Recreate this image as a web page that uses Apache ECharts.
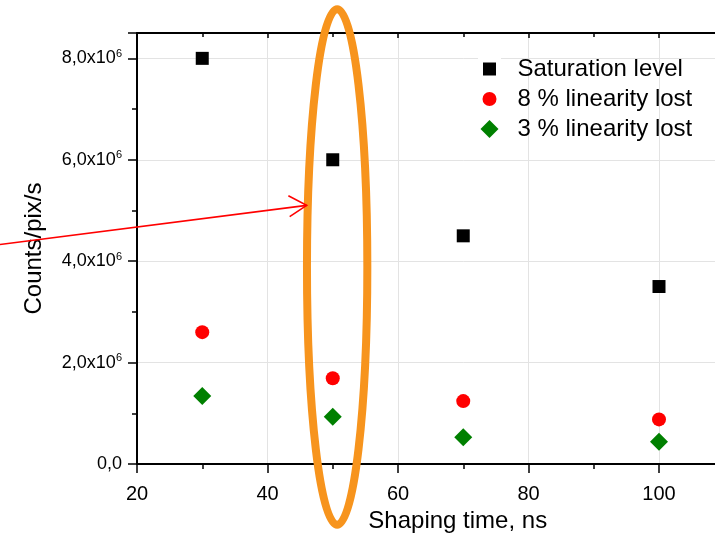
<!DOCTYPE html>
<html>
<head>
<meta charset="utf-8">
<script src="https://cdn.jsdelivr.net/npm/echarts@6/dist/echarts.min.js"></script>
<style>
  html, body { margin: 0; padding: 0; background: #fff; overflow: hidden; }
  #chart { width: 790px; height: 533px; }
</style>
</head>
<body>
<div id="chart"></div>
<script>
// Shaping time (ns) and measured count-rate limits (counts/pix/s)
const shapingTime = [30, 50, 70, 100];
const saturationLevel = [8.0e6, 6.0e6, 4.5e6, 3.5e6];
const linearityLost8 = [2.6e6, 1.69e6, 1.24e6, 0.88e6];
const linearityLost3 = [1.34e6, 0.93e6, 0.53e6, 0.44e6];

const seriesNames = ['Saturation level', '8 % linearity lost', '3 % linearity lost'];
const yTickMantissa = ['0,0', '2,0', '4,0', '6,0', '8,0'];

// Highlight ellipse around the 50 ns column and the pointer arrow, in data units
const ellipseBox = { x0: 46.05, x1: 55.3, y0: -1.2e6, y1: 8.97e6 };
const arrowTail = [-1.0, 4.33e6];
const arrowTip = [46.0, 5.1e6];
const arrowBarbs = [[43.2, 5.29e6], [43.4, 4.88e6]];

const FONT = '"Liberation Sans", Arial, sans-serif';

// The plot runs on past the right edge of the 715 px window, out to 120 ns
const chart = echarts.init(document.getElementById('chart'), null, { renderer: 'canvas' });

function pairs(xs, ys) { return xs.map((x, i) => [x, ys[i]]); }

const option = {
  animation: false,
  backgroundColor: '#ffffff',
  textStyle: { fontFamily: FONT },
  grid: { left: 137, top: 33, right: 0.5, bottom: 69, outerBoundsMode: 'none', containLabel: false },
  legend: {
    orient: 'vertical',
    left: 473,
    top: 52,
    itemWidth: 18,
    itemHeight: 18,
    itemGap: 6,
    data: [
      // white borders trim the square and circle icons down to their marker size
      { name: seriesNames[0], itemStyle: { borderColor: '#ffffff', borderWidth: 5 } },
      { name: seriesNames[1], itemStyle: { borderColor: '#ffffff', borderWidth: 4 } },
      { name: seriesNames[2] }
    ],
    textStyle: { fontFamily: FONT, fontSize: 24, color: '#000', lineHeight: 24, padding: [0, 0, 0, 14] }
  },
  xAxis: [{
    type: 'value',
    position: 'bottom',
    min: 20, max: 120, interval: 20,
    name: 'Shaping time, ns',
    nameLocation: 'middle',
    nameGap: 44,
    nameTextStyle: { fontFamily: FONT, fontSize: 24, color: '#000', padding: [0, 11, 0, 0] },
    axisLine: { show: true, onZero: false, lineStyle: { color: '#000', width: 2 } },
    axisTick: { show: true, inside: false, length: 9, lineStyle: { color: '#000', width: 1.5 } },
    minorTick: { show: true, splitNumber: 2, length: 5, lineStyle: { color: '#000', width: 1.5 } },
    axisLabel: { fontFamily: FONT, fontSize: 20, color: '#000', margin: 20 },
    splitLine: { show: true, lineStyle: { color: '#e3e3e3', width: 1 } }
  }, {
    type: 'value',
    position: 'top',
    min: 20, max: 120, interval: 20,
    axisLine: { show: true, onZero: false, lineStyle: { color: '#000', width: 2 } },
    axisTick: { show: true, inside: true, length: 5, lineStyle: { color: '#000', width: 1.5 } },
    minorTick: { show: true, splitNumber: 2, length: 4, lineStyle: { color: '#000', width: 1.5 } },
    axisLabel: { show: false },
    splitLine: { show: false }
  }],
  yAxis: {
    type: 'value',
    min: 0, max: 8.5e6, interval: 2e6,
    name: 'Counts/pix/s',
    nameLocation: 'middle',
    nameGap: 91,
    nameTextStyle: { fontFamily: FONT, fontSize: 24, color: '#000' },
    axisLine: { show: true, onZero: false, lineStyle: { color: '#000', width: 2 } },
    axisTick: { show: true, inside: false, length: 9, lineStyle: { color: '#000', width: 1.5 } },
    minorTick: { show: true, splitNumber: 2, length: 5, lineStyle: { color: '#000', width: 1.5 } },
    axisLabel: {
      margin: 15,
      showMaxLabel: false,
      formatter: function (v) {
        const idx = Math.round(v / 2e6);
        if (idx * 2e6 !== v) return '';
        if (idx === 0) return '{b|' + yTickMantissa[0] + '}';
        return '{b|' + yTickMantissa[idx] + 'x10}{s|6}';
      },
      rich: {
        b: { fontFamily: FONT, fontSize: 18, color: '#000', lineHeight: 20 },
        s: { fontFamily: FONT, fontSize: 11, color: '#000', lineHeight: 11, verticalAlign: 'top', padding: [0, 0, 10, 0] }
      }
    },
    splitLine: { show: true, lineStyle: { color: '#e3e3e3', width: 1 } }
  },
  series: [{
    name: seriesNames[0],
    type: 'scatter',
    symbol: 'rect',
    symbolSize: 13,
    itemStyle: { color: '#000000', opacity: 1 },
    data: pairs(shapingTime, saturationLevel),
    z: 5
  }, {
    name: seriesNames[1],
    type: 'scatter',
    symbol: 'circle',
    symbolSize: 14,
    itemStyle: { color: '#ff0000', opacity: 1 },
    data: pairs(shapingTime, linearityLost8),
    z: 5
  }, {
    name: seriesNames[2],
    type: 'scatter',
    symbol: 'diamond',
    symbolSize: 18,
    itemStyle: { color: '#008000', opacity: 1 },
    data: pairs(shapingTime, linearityLost3),
    z: 5
  }]
};

chart.setOption(option);

// Annotations placed through the grid's coordinate system
function px(p) { return chart.convertToPixel({ gridIndex: 0 }, p); }

const e0 = px([ellipseBox.x0, ellipseBox.y1]);
const e1 = px([ellipseBox.x1, ellipseBox.y0]);
const tail = px(arrowTail);
const tip = px(arrowTip);
const barbA = px(arrowBarbs[0]);
const barbB = px(arrowBarbs[1]);

chart.setOption({
  graphic: [{
    type: 'ellipse',
    z: 100,
    shape: {
      cx: (e0[0] + e1[0]) / 2,
      cy: (e0[1] + e1[1]) / 2,
      rx: (e1[0] - e0[0]) / 2,
      ry: (e1[1] - e0[1]) / 2
    },
    style: { fill: null, stroke: '#f7941d', lineWidth: 8 }
  }, {
    type: 'polyline',
    z: 101,
    shape: { points: [tail, tip] },
    style: { stroke: '#ff0000', lineWidth: 1.6, fill: null }
  }, {
    type: 'polyline',
    z: 101,
    shape: { points: [barbA, tip, barbB] },
    style: { stroke: '#ff0000', lineWidth: 1.6, fill: null }
  }]
});
</script>
</body>
</html>
